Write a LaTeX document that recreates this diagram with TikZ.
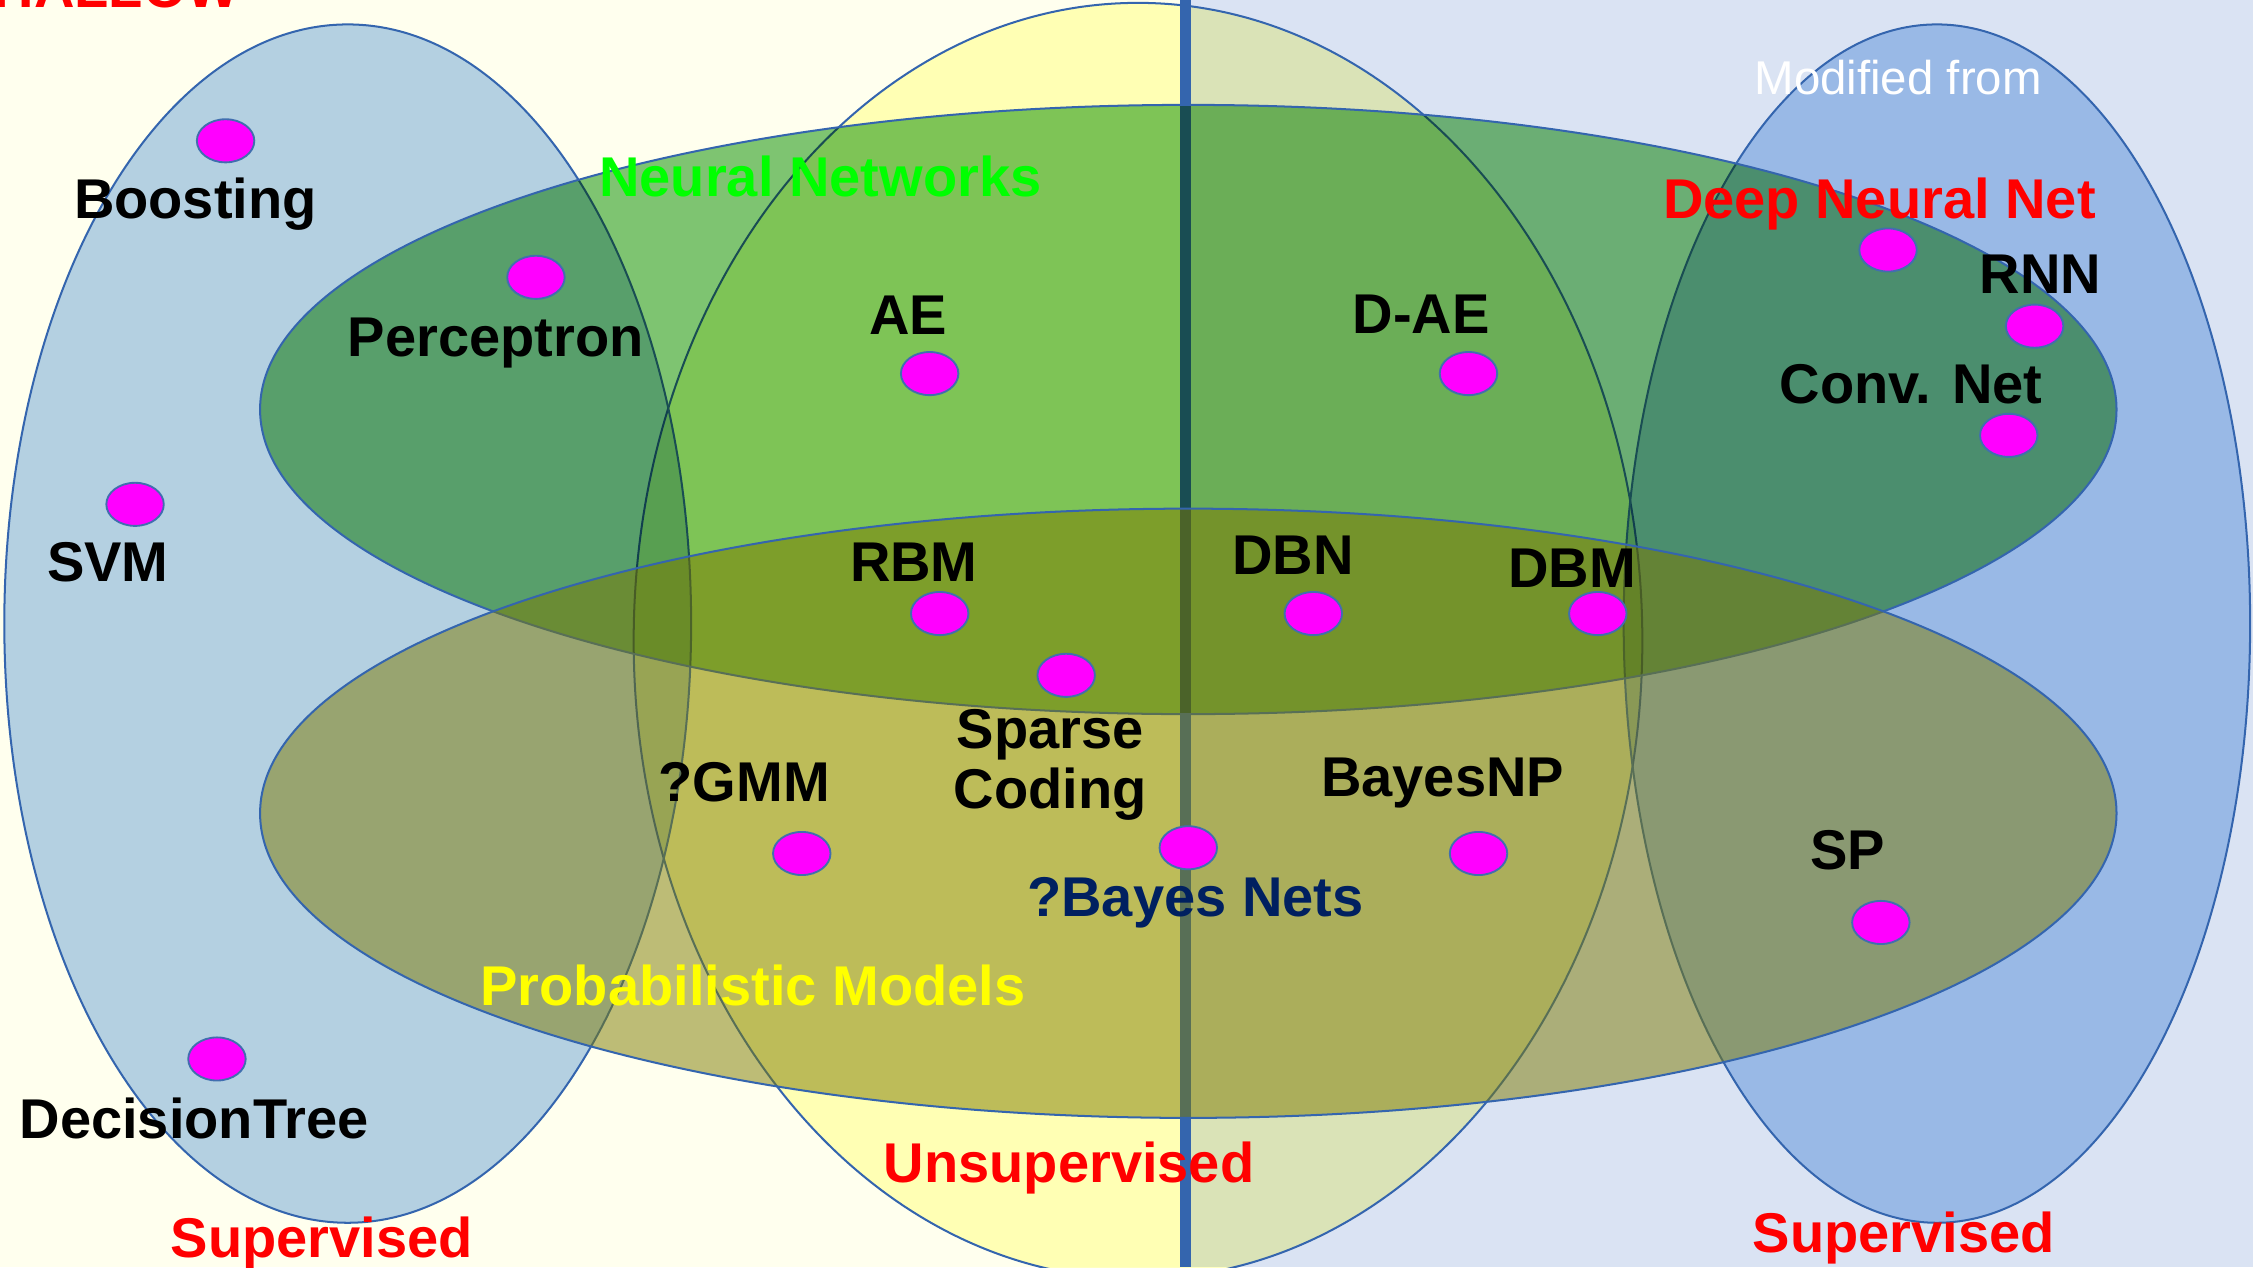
\documentclass[tikz,border=0pt]{standalone}
\usepackage{fontspec}
\setmainfont{Liberation Sans}
\usetikzlibrary{shapes.geometric}

\definecolor{creambg}{RGB}{255,255,238}
\definecolor{bluebg}{RGB}{218,227,243}
\definecolor{edgeblue}{RGB}{52,101,174}
\definecolor{supfill}{RGB}{180,208,242}
\definecolor{unsupfill}{RGB}{255,255,193}
\definecolor{nnfill}{RGB}{126,196,122}
\definecolor{probfill}{RGB}{125,122,0}
\definecolor{dotfill}{RGB}{255,0,255}
\definecolor{dotedge}{RGB}{65,110,175}
\definecolor{navy}{RGB}{0,32,96}
\definecolor{nngreen}{RGB}{0,255,0}
\definecolor{probyellow}{RGB}{255,255,0}
\definecolor{catred}{RGB}{255,0,0}

\begin{document}
\begin{tikzpicture}[x=1pt,y=-1pt,
  region/.style={draw=edgeblue, line width=1.4pt},
  dot/.style={ellipse, fill=dotfill, draw=dotedge, line width=1.3pt,
              minimum width=40pt, minimum height=30pt, inner sep=0pt},
  lbl/.style={font=\fontsize{39}{43}\selectfont\bfseries, inner sep=0pt, anchor=base},
  cat/.style={lbl, text=catred},
]
\path[use as bounding box] (0,0) rectangle (1568,882);
\clip (0,0) rectangle (1568,882);

% two halves of the backdrop
\fill[creambg] (0,0) rectangle (825,882);
\fill[bluebg] (825,0) rectangle (1568,882);

% unsupervised region
\begin{scope}[blend mode=multiply]
  \fill[unsupfill] (792,446) ellipse [x radius=351, y radius=444];
\end{scope}
\draw[region] (792,446) ellipse [x radius=351, y radius=444];

% dividing line between the shallow and deep halves
\coordinate (divtop) at (825,0);
\coordinate (divbot) at (825,882);
\draw[edgeblue, line width=8pt] (divtop) -- (divbot);

% supervised regions
\begin{scope}[blend mode=multiply]
  \fill[supfill] (242,434) ellipse [x radius=239, y radius=417];
  \fill[supfill] (1348,434) ellipse [x radius=218, y radius=417];
\end{scope}
\draw[region] (242,434) ellipse [x radius=239, y radius=417];
\draw[region] (1348,434) ellipse [x radius=218, y radius=417];

% neural networks
\begin{scope}[blend mode=multiply]
  \fill[nnfill] (827,285) ellipse [x radius=646, y radius=212];
\end{scope}
\draw[region] (827,285) ellipse [x radius=646, y radius=212];

% probabilistic models
\fill[probfill, fill opacity=0.5] (827,566) ellipse [x radius=646, y radius=212];
\draw[region] (827,566) ellipse [x radius=646, y radius=212];

% category labels
\node[cat, anchor=base east] (shallow) at (167,5) {SHALLOW};
\node[lbl, text=nngreen] (nnlbl) at (571,137) {Neural Networks};
\node[cat] (dnnlbl) at (1308,152) {Deep Neural Net};
\node[lbl, text=probyellow] (problbl) at (524,700) {Probabilistic Models};
\node[cat] (unsuplbl) at (744,823) {Unsupervised};
\node[cat] (supl) at (224,875) {Supervised};
\node[cat] (supr) at (1325,872) {Supervised};
\node[font=\fontsize{33}{38}\selectfont, text=white, inner sep=0pt, anchor=base] (credit) at (1321,66) {Modified from};

% methods
\node[dot] (boosting) at (157,98) {};
\node[lbl] (boostingl) at (136,152) {Boosting};
\node[dot] (perceptron) at (373,193) {};
\node[lbl] (perceptronl) at (345,248) {Perceptron};
\node[dot] (svm) at (94,351) {};
\node[lbl] (svml) at (75,405) {SVM};
\node[dot] (dtree) at (151,737) {};
\node[lbl] (dtreel) at (135,792) {DecisionTree};
\node[dot] (ae) at (647,260) {};
\node[lbl] (ael) at (632,233) {AE};
\node[dot] (dae) at (1022,260) {};
\node[lbl] (dael) at (989,232) {D-AE};
\node[dot] (dnn) at (1314,174) {};
\node[dot] (rnn) at (1416,227) {};
\node[lbl] (rnnl) at (1420,204) {RNN};
\node[dot] (conv) at (1398,303) {};
\node[lbl] (convl) at (1330,281) {Conv. Net};
\node[dot] (rbm) at (654,427) {};
\node[lbl] (rbml) at (636,405) {RBM};
\node[dot] (dbn) at (914,427) {};
\node[lbl] (dbnl) at (900,400) {DBN};
\node[dot] (dbm) at (1112,427) {};
\node[lbl] (dbml) at (1094,409) {DBM};
\node[dot] (sparse) at (742,470) {};
\node[lbl] (sparsel) at (731,521) {Sparse};
\node[lbl] (codingl) at (731,563) {Coding};
\node[dot] (gmm) at (558,594) {};
\node[lbl] (gmml) at (518,558) {?GMM};
\node[dot] (bnets) at (827,590) {};
\node[lbl, text=navy] (bnetsl) at (832,638) {?Bayes Nets};
\node[dot] (bnp) at (1029,594) {};
\node[lbl] (bnpl) at (1004,554) {BayesNP};
\node[dot] (sp) at (1309,642) {};
\node[lbl] (spl) at (1286,605) {SP};
\end{tikzpicture}
\end{document}
